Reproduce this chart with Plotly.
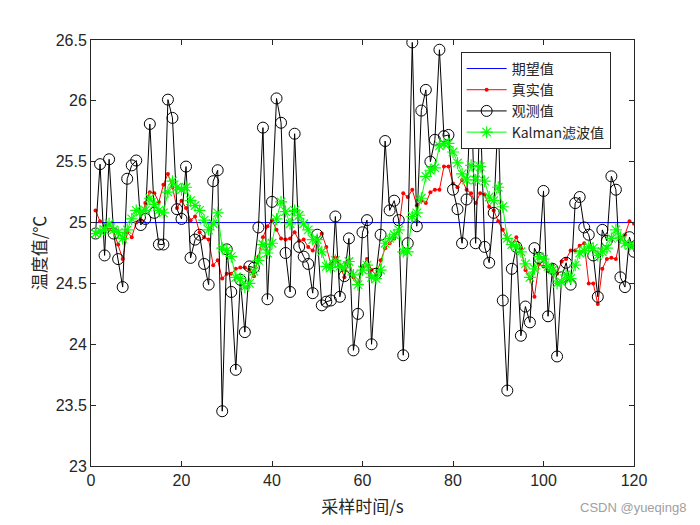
import plotly.graph_objects as go

t = list(range(1, 121))

expected = [25.0] * 120

true_vals = [
    25.10, 25.01, 24.98, 24.94, 24.93, 24.82, 24.70, 24.92, 24.88, 25.00,
    25.02, 25.16, 25.25, 25.24, 25.17, 25.31, 25.40, 25.29, 25.12, 25.18,
    25.12, 25.02, 25.05, 24.92, 24.88, 24.86, 24.65, 24.69, 24.54, 24.58,
    24.58, 24.62, 24.63, 24.63, 24.61, 24.56, 24.72, 24.88, 24.97, 25.02,
    24.94, 24.87, 24.86, 24.87, 24.92, 24.85, 24.86, 24.80, 24.77, 24.86,
    24.91, 24.80, 24.66, 24.71, 24.65, 24.55, 24.69, 24.55, 24.50, 24.64,
    24.70, 24.61, 24.57, 24.69, 24.79, 24.83, 24.87, 24.94, 25.24, 25.21,
    25.27, 25.14, 25.18, 25.16, 25.25, 25.27, 25.27, 25.46, 25.46, 25.32,
    25.29, 25.35, 25.27, 25.24, 25.16, 25.24, 25.23, 25.13, 25.10, 25.01,
    24.94, 24.87, 24.82, 24.88, 24.79, 24.61, 24.54, 24.39, 24.66, 24.64,
    24.60, 24.65, 24.58, 24.68, 24.70, 24.77, 24.77, 24.81, 24.83, 24.50,
    24.50, 24.33, 24.62, 24.70, 24.71, 24.70, 24.87, 24.90, 25.01, 24.99,
]

observed = [
    24.91, 25.48, 24.73, 25.52, 24.91, 24.70, 24.47, 25.36, 25.47, 25.51,
    24.98, 25.03, 25.81, 25.08, 24.82, 24.82, 26.01, 25.86, 25.11, 25.03,
    25.46, 24.71, 24.86, 24.90, 24.66, 24.49, 25.34, 25.43, 23.45, 24.78,
    24.43, 23.79, 24.53, 24.10, 24.64, 24.63, 24.96, 25.78, 24.37, 25.17,
    26.02, 25.82, 24.75, 24.43, 25.73, 24.80, 24.72, 24.66, 24.42, 24.90,
    24.32, 24.35, 24.36, 25.05, 24.39, 24.56, 24.87, 23.95, 24.25, 24.92,
    25.02, 24.00, 24.58, 24.90, 25.67, 25.10, 25.18, 25.02, 23.91, 24.83,
    26.48, 24.97, 25.92, 26.09, 25.50, 25.68, 26.42, 25.71, 25.72, 25.27,
    25.11, 24.83, 25.19, 26.10, 24.83, 25.95, 24.80, 24.67, 25.08, 25.90,
    24.36, 23.62, 24.62, 24.80, 24.07, 24.31, 24.18, 24.79, 24.71, 25.26,
    24.23, 24.62, 23.90, 24.55, 24.67, 24.49, 25.16, 25.21, 24.96, 24.90,
    24.73, 24.39, 24.94, 24.85, 25.38, 25.27, 24.55, 24.47, 24.88, 24.76,
]

kalman = [
    24.91, 24.93, 24.94, 24.99, 24.94, 24.92, 24.87, 24.94, 25.03, 25.10,
    25.09, 25.10, 25.20, 25.15, 25.10, 25.08, 25.25, 25.34, 25.29, 25.27,
    25.29, 25.18, 25.14, 25.10, 25.02, 24.94, 24.99, 25.08, 24.79, 24.77,
    24.72, 24.55, 24.54, 24.47, 24.50, 24.60, 24.69, 24.82, 24.75, 24.83,
    25.03, 25.17, 25.09, 24.99, 25.10, 25.06, 24.99, 24.94, 24.86, 24.86,
    24.76, 24.64, 24.63, 24.69, 24.64, 24.63, 24.68, 24.57, 24.49, 24.61,
    24.65, 24.55, 24.54, 24.61, 24.83, 24.87, 24.90, 24.94, 24.76, 24.76,
    25.05, 25.08, 25.20, 25.38, 25.43, 25.45, 25.63, 25.65, 25.65, 25.58,
    25.49, 25.40, 25.35, 25.47, 25.35, 25.46, 25.34, 25.21, 25.18, 25.29,
    25.13, 24.87, 24.82, 24.80, 24.76, 24.66, 24.55, 24.62, 24.72, 24.70,
    24.64, 24.61, 24.50, 24.51, 24.57, 24.54, 24.65, 24.75, 24.77, 24.80,
    24.79, 24.73, 24.76, 24.79, 24.87, 24.94, 24.88, 24.83, 24.81, 24.81,
]

names = ["期望值", "真实值", "观测值", "Kalman滤波值"]

FONT = "Liberation Sans, Arial, Noto Sans CJK SC"
CJK = "Noto Sans CJK SC, Liberation Sans"

fig = go.Figure()
fig.add_trace(go.Scatter(x=t, y=expected, mode="lines", name=names[0],
                         line=dict(color="#0000ff", width=1)))
fig.add_trace(go.Scatter(x=t, y=true_vals, mode="lines+markers", name=names[1],
                         line=dict(color="#ff0000", width=1),
                         marker=dict(symbol="circle", size=4, color="#ff0000")))
fig.add_trace(go.Scatter(x=t, y=observed, mode="lines+markers", name=names[2],
                         line=dict(color="#000000", width=1),
                         marker=dict(symbol="circle-open", size=11, color="#000000",
                                     line=dict(width=1, color="#000000"))))
fig.add_trace(go.Scatter(x=t, y=kalman, mode="lines+markers", name=names[3],
                         line=dict(color="#00ff00", width=1),
                         marker=dict(symbol="asterisk-open", size=10, color="#00ff00",
                                     line=dict(width=1.2, color="#00ff00"))))

axis_common = dict(
    showline=True, linecolor="#262626", linewidth=1, mirror="allticks",
    ticks="inside", ticklen=5, tickcolor="#262626", showgrid=False,
    zeroline=False, tickfont=dict(family=FONT, size=16, color="#262626"),
)

fig.update_layout(
    width=700, height=525,
    margin=dict(l=91, r=66, t=40, b=59),
    paper_bgcolor="white", plot_bgcolor="white",
    xaxis=dict(range=[0, 120], tickvals=[0, 20, 40, 60, 80, 100, 120],
               title=dict(text="采样时间/s", font=dict(family=CJK, size=17, color="#262626"),
                          standoff=12),
               **axis_common),
    yaxis=dict(range=[23, 26.5], tickvals=[23, 23.5, 24, 24.5, 25, 25.5, 26, 26.5],
               title=dict(text="温度值/℃", font=dict(family=CJK, size=17, color="#262626"),
                          standoff=4),
               **axis_common),
    legend=dict(x=0.957, y=0.972, xanchor="right", yanchor="top",
                bgcolor="white", bordercolor="#262626", borderwidth=1,
                font=dict(family=CJK, size=14, color="#262626"),
                tracegroupgap=0, itemwidth=40),
    showlegend=True,
)

fig.layout.annotations = [dict(text="CSDN @yueqing8", xref="paper", yref="paper",
                               x=(688 - 91) / 543, y=-(507 - 466) / 426,
                               xanchor="right", yanchor="middle", showarrow=False,
                               font=dict(family=FONT, size=13, color="#a0a0a0"))]

fig.write_html("out.html")
